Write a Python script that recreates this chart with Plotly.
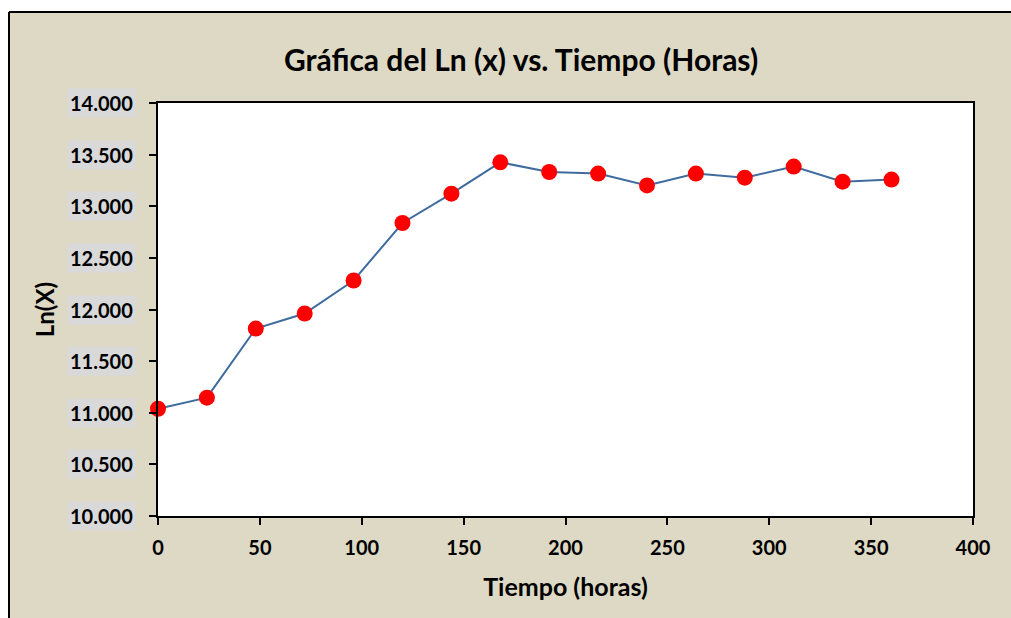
import plotly.graph_objects as go

tiempo = [0, 24, 48, 72, 96, 120, 144, 168, 192, 216, 240, 264, 288, 312, 336, 360]
ln_x = [11.039, 11.146, 11.815, 11.961, 12.281, 12.838, 13.122, 13.425,
        13.332, 13.316, 13.202, 13.316, 13.277, 13.384, 13.238, 13.258]
y_ticks = [10.0, 10.5, 11.0, 11.5, 12.0, 12.5, 13.0, 13.5, 14.0]
x_ticks = [0, 50, 100, 150, 200, 250, 300, 350, 400]

TITLE = "Gráfica del Ln (x) vs. Tiempo (Horas)"
X_TITLE = "Tiempo (horas)"
Y_TITLE = "Ln(X)"

FONT = "Lato"
TAN = "#DDD9C4"

W, H = 1011, 618
L, R, T, B = 158, 38, 103, 102
PW, PH = W - L - R, H - T - B


def px_x(p):
    return (p - L) / PW


def px_y(p):
    return (H - B - p) / PH


fig = go.Figure()
fig.add_trace(go.Scatter(
    x=tiempo, y=ln_x, mode="lines+markers",
    line=dict(color="#3F6C9F", width=2),
    marker=dict(color="#FF0000", size=16, line=dict(width=0)),
    showlegend=False, cliponaxis=False,
))

annotations = []
for v in y_ticks:
    annotations.append(dict(
        x=0, xref="paper", y=v, yref="y", xanchor="right", yanchor="middle",
        xshift=-22, text=f"<b>{v:.3f}</b>", showarrow=False,
        font=dict(family=FONT, size=20, color="#000000"),
        bgcolor="#D9D9D9", borderpad=2,
    ))

shapes = [
    # white area outside the outer chart border (left and top)
    dict(type="rect", xref="paper", yref="paper", x0=px_x(-5), x1=px_x(8), y0=px_y(H + 5), y1=px_y(-5),
         fillcolor="white", line=dict(width=0), layer="below"),
    dict(type="rect", xref="paper", yref="paper", x0=px_x(-5), x1=px_x(W + 5), y0=px_y(12), y1=px_y(-5),
         fillcolor="white", line=dict(width=0), layer="below"),
    dict(type="line", xref="paper", yref="paper", x0=px_x(9), x1=px_x(9), y0=px_y(12), y1=px_y(H + 5),
         line=dict(color="#000000", width=2), layer="below"),
    dict(type="line", xref="paper", yref="paper", x0=px_x(9), x1=px_x(W + 5), y0=px_y(12), y1=px_y(12),
         line=dict(color="#000000", width=2), layer="below"),
]

fig.update_layout(
    width=W, height=H,
    margin=dict(l=L, r=R, t=T, b=B, autoexpand=False),
    paper_bgcolor=TAN, plot_bgcolor="white",
    title=dict(text=f"<b>{TITLE}</b>", x=521 / W, xref="container", xanchor="center",
               y=1 - 60 / H, yref="container", yanchor="middle",
               font=dict(family=FONT, size=30, color="#000000")),
    xaxis=dict(range=[0, 400], tickvals=x_ticks, ticktext=[f"<b>{v}</b>" for v in x_ticks],
               showgrid=False, zeroline=False, showline=True, linecolor="#000000", linewidth=2,
               mirror=True, ticks="outside", ticklen=7, tickwidth=2, tickcolor="#000000",
               ticklabelstandoff=6,
               tickfont=dict(family=FONT, size=20, color="#000000"),
               title=dict(text=f"<b>{X_TITLE}</b>", standoff=20,
                          font=dict(family=FONT, size=25, color="#000000"))),
    yaxis=dict(range=[10, 14], tickvals=y_ticks, showticklabels=False,
               showgrid=False, zeroline=False, showline=True, linecolor="#000000", linewidth=2,
               mirror=True, ticks="outside", ticklen=7, tickwidth=2, tickcolor="#000000",
               title=dict(text=f"<b>{Y_TITLE}</b>", standoff=88,
                          font=dict(family=FONT, size=24, color="#000000"))),
    annotations=annotations,
    shapes=shapes,
)

fig.write_html(
    "out.html",
    config={"displayModeBar": False},
    post_script="document.body.style.margin='0';document.body.style.overflow='hidden';",
)
